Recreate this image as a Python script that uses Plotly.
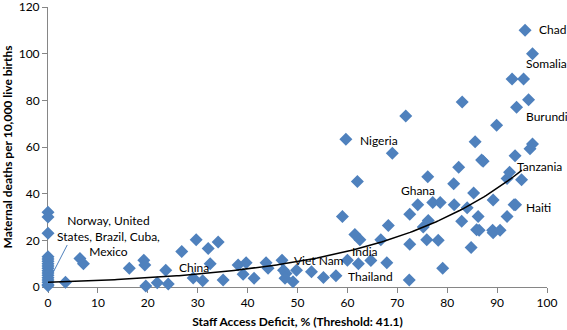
import numpy as np
import plotly.graph_objects as go

# Countries at zero deficit
zero_x = [0] * 17
zero_y = [32, 30, 23, 13, 12, 11, 10, 9, 8, 7, 6, 5, 4, 3, 2, 1, 0.5]

other_x = [3.5, 6.4, 7.1, 16.3, 19.2, 19.4, 19.6, 21.9, 23.6, 24.1, 26.8, 29.7, 29.1,
           32.1, 34.1, 32.5, 31.0, 35.1, 38.1, 39.7, 39.1, 41.3, 43.7, 44.1, 46.9, 47.2,
           47.7, 47.5, 49.1, 49.8, 52.8, 55.2, 57.7, 59.0, 59.7, 62.0, 61.5, 62.5, 60.0,
           62.2, 64.7, 66.7, 67.9, 68.2, 69.0, 71.7, 72.4, 72.5, 72.5, 74.1, 75.2, 75.9,
           76.1, 76.2, 77.1, 78.6, 78.2, 79.1, 81.3, 81.4, 82.3, 82.9, 83.0, 84.0, 84.8,
           85.3, 85.6, 86.2, 85.9, 86.4, 86.9, 87.2, 89.2, 89.1, 89.2, 89.9, 90.6, 92.0,
           92.0, 92.5, 93.0, 93.4, 93.7, 93.6, 93.9, 94.9, 95.3, 95.6, 96.3, 96.6, 97.1, 97.1]
other_y = [2, 12.2, 10, 8, 11.5, 9.4, 0.4, 1.8, 7.2, 1.3, 15.2, 20.3, 3.9,
           16.5, 19.3, 10, 2.7, 3, 9.4, 10.4, 5.5, 3.7, 10.4, 8, 11.5, 7.2,
           5.8, 3.7, 2.3, 7.2, 6.5, 4.1, 4.8, 30.2, 63.3, 45.2, 22.5, 20.3, 11.5,
           10, 11.4, 20.2, 10.4, 26.4, 57.3, 73.3, 3, 31.2, 18.3, 35.2, 25.7, 20.3,
           47.2, 28.5, 36.2, 36.2, 20, 8, 44.3, 35.2, 51.3, 28.2, 79.3, 34, 16.9,
           40.3, 62.3, 30.2, 24.5, 24.3, 54.4, 53.9, 37.3, 24.3, 23.3, 69.3, 24.3, 30.2,
           46.5, 49.2, 89.1, 35.3, 35.3, 56.3, 77, 46, 89.1, 110, 80.3, 59.2, 61.3, 100]

# Exponential trend parameters (y = a * exp(b x))
trend_a = 2.0
trend_b = 0.0339
trend_x_max = 95

# Labels: text, x, y
labels = [
    ("Chad", 98.0, 110.2),
    ("Somalia", 95.4, 95.7),
    ("Burundi", 95.4, 73.2),
    ("Tanzania", 93.6, 51.5),
    ("Haiti", 95.4, 34),
    ("Ghana", 70.3, 41.3),
    ("Nigeria", 62.1, 63),
    ("India", 60.5, 15.3),
    ("Viet Nam", 48.9, 11.5),
    ("Thailand", 59.7, 4.7),
    ("China", 25.9, 8.5),
]

FONT = "Lato"
BLUE = "#4F81BD"

xs = zero_x + other_x
ys = zero_y + other_y

fig = go.Figure()
fig.add_trace(go.Scatter(
    x=xs, y=ys, mode="markers",
    marker=dict(symbol="diamond", size=10, color=BLUE, line=dict(width=0)),
    cliponaxis=False, showlegend=False, hoverinfo="skip"))

tx = np.linspace(0, trend_x_max, 200)
ty = trend_a * np.exp(trend_b * tx)
fig.add_trace(go.Scatter(x=tx, y=ty, mode="lines", line=dict(color="black", width=1.5),
                         showlegend=False, hoverinfo="skip", cliponaxis=False))

for text, x, y in labels:
    fig.add_annotation(x=x, y=y, text=text, showarrow=False, xanchor="left",
                       yanchor="middle", font=dict(family=FONT, size=12, color="black"))

fig.add_annotation(x=12.2, y=21.9, text="Norway, United<br>States, Brazil, Cuba,<br>Mexico",
                   showarrow=False, xanchor="center", yanchor="middle", align="center",
                   font=dict(family=FONT, size=12, color="black"))
fig.add_annotation(x=0.2, y=2.8, text="", showarrow=True, arrowhead=2, arrowsize=1,
                   arrowwidth=1, arrowcolor=BLUE, ax=19, ay=-37, axref="pixel", ayref="pixel")

axis_common = dict(showgrid=False, zeroline=False, showline=True, linecolor="#868686",
                   linewidth=1, ticks="outside", ticklen=5, tickcolor="#868686",
                   tickfont=dict(family=FONT, size=12, color="black"), layer="below traces",
                   ticklabeloverflow="allow")

fig.update_layout(
    width=567, height=330,
    margin=dict(l=48, r=20, t=7, b=43, autoexpand=False),
    paper_bgcolor="white", plot_bgcolor="white",
    xaxis=dict(range=[0, 100], dtick=10, tick0=0, automargin=False,
               title=dict(text="<b>Staff Access Deficit, % (Threshold: 41.1)</b>",
                          font=dict(family=FONT, size=12, color="black"), standoff=8),
               **axis_common),
    yaxis=dict(range=[0, 120], dtick=20, tick0=0, automargin=False,
               title=dict(text="<b>Maternal deaths per 10,000 live births</b>",
                          font=dict(family=FONT, size=12, color="black"), standoff=6),
               **axis_common),
)

fig.write_html("out.html", config={"displayModeBar": False},
               post_script="document.body.style.margin='0';document.body.style.overflow='hidden';")
